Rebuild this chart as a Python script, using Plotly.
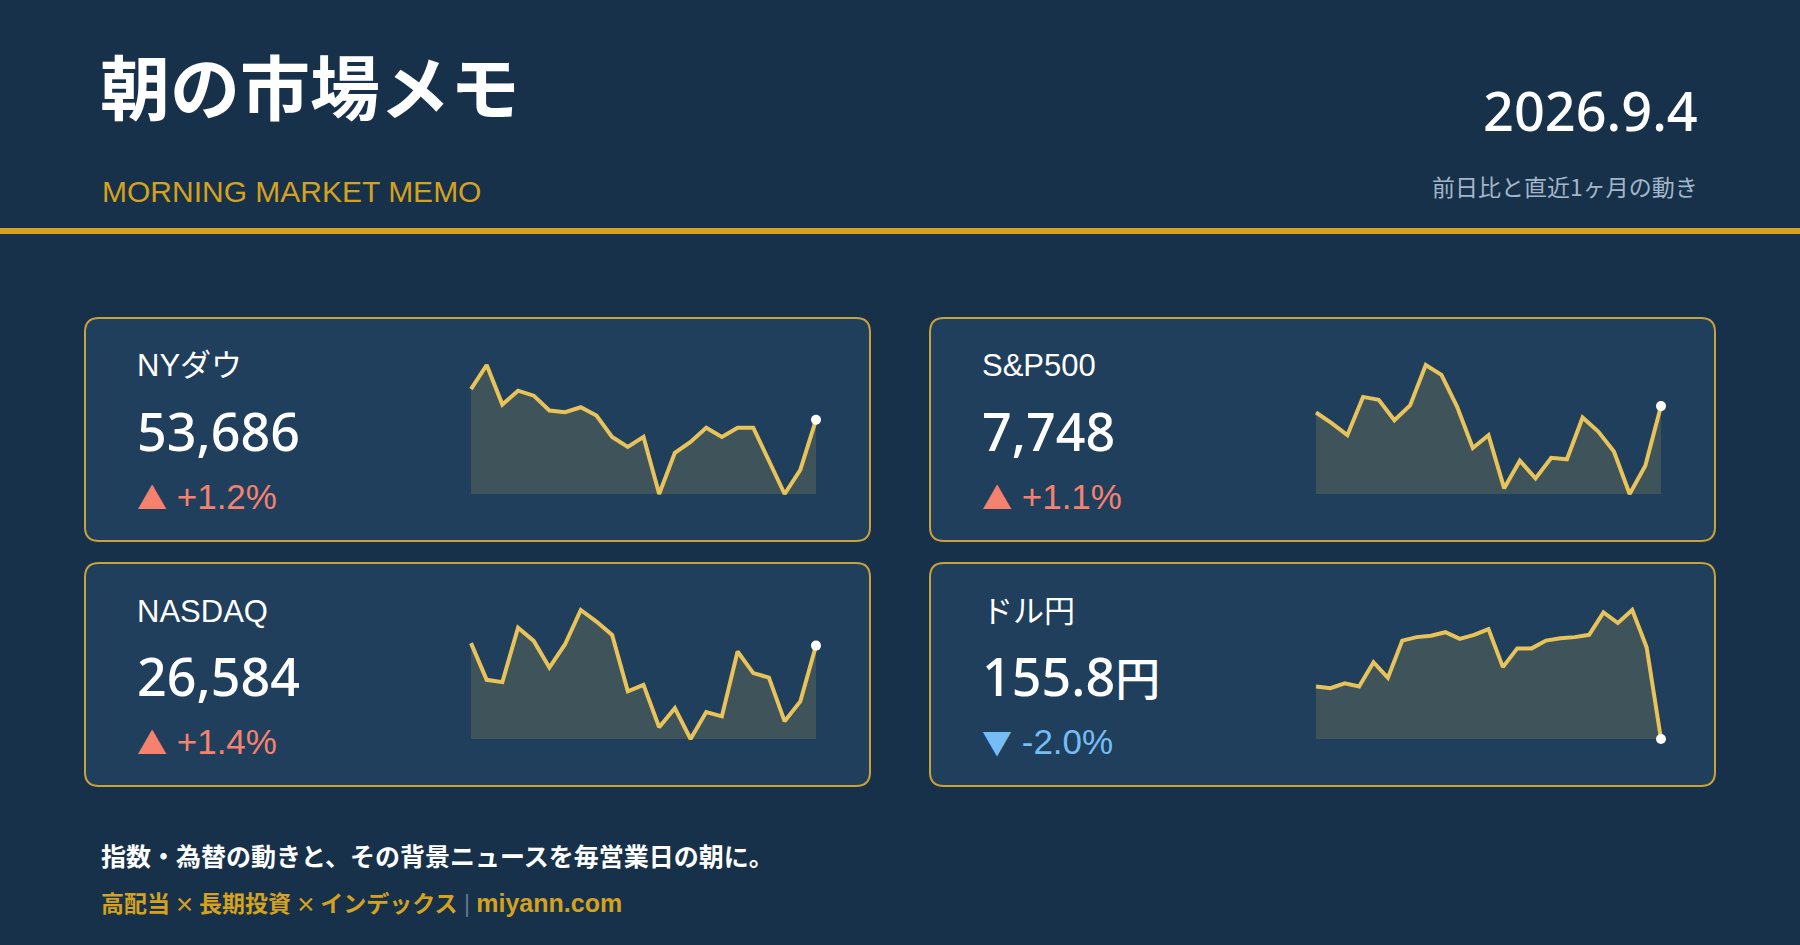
import plotly.graph_objects as go

# ---------------- data ----------------
names = ["NYダウ", "S&P500", "NASDAQ", "ドル円"]
value_numbers = ["53,686", "7,748", "26,584", "155.8"]
value_units = ["", "", "", "円"]
change_arrows = ["▲", "▲", "▲", "▼"]
change_labels = ["+1.2%", "+1.1%", "+1.4%", "-2.0%"]
change_up = [True, True, True, False]

dow = [54075, 54381, 53879, 54055, 53992, 53804, 53783, 53845, 53741, 53469,
       53343, 53469, 52745, 53268, 53406, 53586, 53469, 53586, 53586, 53176,
       52745, 53050, 53686]
sp500 = [7739, 7724, 7707, 7761, 7757, 7728, 7749, 7806, 7792, 7747,
         7689, 7707, 7632, 7671, 7646, 7675, 7673, 7732, 7712, 7684,
         7624, 7664, 7748]
nasdaq = [26600, 26359, 26344, 26702, 26615, 26440, 26593, 26818, 26742, 26654,
          26283, 26326, 26047, 26173, 25970, 26147, 26119, 26545, 26403, 26374,
          26086, 26217, 26584]
usdjpy = [157.62, 157.56, 157.73, 157.62, 158.46, 157.92, 159.21, 159.33, 159.38, 159.50,
          159.27, 159.41, 159.61, 158.29, 158.94, 158.94, 159.21, 159.29, 159.33, 159.41,
          160.19, 159.82, 160.27, 158.98, 155.80]
series = [dow, sp500, nasdaq, usdjpy]

title = "朝の市場メモ"
subtitle_en = "MORNING MARKET MEMO"
date_label = "2026.9.4"
date_note = "前日比と直近1ヶ月の動き"
footer1 = "指数・為替の動きと、その背景ニュースを毎営業日の朝に。"
footer_tags = ["高配当", "長期投資", "インデックス"]
footer_site = "miyann.com"

# ---------------- style ----------------
W, H = 1800, 945
BG = "#17314a"
CARD = "#1f3f5c"
GOLD = "#d4a21e"
CARD_BORDER = "#c9a23a"
LINE = "#e8c35a"
FILL = "rgba(232,195,90,0.16)"
UP = "#f5826f"
DOWN = "#74bdf5"
FONT = "'Liberation Sans', 'Noto Sans CJK JP', sans-serif"
NUMFONT = "'Noto Sans', 'Noto Sans CJK JP', sans-serif"
CJK = "'Noto Sans CJK JP'"

def fx(x):
    return x / W

def fy(y):
    return 1 - y / H

cards = [(85, 318), (930, 318), (85, 563), (930, 563)]
CW, CH = 785, 223

fig = go.Figure()
shapes = []
annotations = []

# gold rule
shapes.append(dict(type="rect", xref="paper", yref="paper", x0=0, x1=1,
                   y0=fy(234), y1=fy(228), fillcolor=GOLD, line=dict(width=0),
                   layer="below"))

def rounded(x0, y0, x1, y1, r):
    pts = (f"M {fx(x0+r)},{fy(y0)} L {fx(x1-r)},{fy(y0)} Q {fx(x1)},{fy(y0)} {fx(x1)},{fy(y0+r)} "
           f"L {fx(x1)},{fy(y1-r)} Q {fx(x1)},{fy(y1)} {fx(x1-r)},{fy(y1)} "
           f"L {fx(x0+r)},{fy(y1)} Q {fx(x0)},{fy(y1)} {fx(x0)},{fy(y1-r)} "
           f"L {fx(x0)},{fy(y0+r)} Q {fx(x0)},{fy(y0)} {fx(x0+r)},{fy(y0)} Z")
    return pts

def ann(text, x, y, size, color, anchor="left", weight="normal", family=FONT):
    annotations.append(dict(text=text, x=fx(x), y=fy(y), xref="paper", yref="paper",
                            xanchor=anchor, yanchor="middle", showarrow=False,
                            font=dict(family=family, size=size, color=color, weight=weight)))

# header
ann(title, 98, 91, 70, "white", weight="bold")
ann(subtitle_en, 100, 191, 30, GOLD)
ann(date_label, 1700, 110, 54, "white", anchor="right", weight=500, family=NUMFONT)
ann(date_note, 1700, 186, 23, "#a3b6c9", anchor="right", family=CJK)

# footer
ann(footer1, 99, 855, 25, "white", weight="bold", family=CJK)
times = f"<span style=\"font-family:{CJK};font-size:20px\"> × </span>"
bar = "<span style='color:rgba(255,255,255,0.35);font-weight:normal'> | </span>"
footer2 = (times.join(footer_tags) + bar +
           f"<span style='font-size:25px'>{footer_site}</span>")
ann(footer2, 99, 903, 23, GOLD, weight="bold")

for i, (cx, cy) in enumerate(cards):
    shapes.append(dict(type="path", xref="paper", yref="paper",
                       path=rounded(cx, cy, cx + CW, cy + CH, 14),
                       fillcolor=CARD, line=dict(color=CARD_BORDER, width=2), layer="below"))
    ann(names[i], cx + 50, cy + 48, 31, "white")
    unit = value_units[i]
    unit_html = f"<span style=\"font-family:{CJK};font-size:45px\">{unit}</span>" if unit else ""
    ann(value_numbers[i] + unit_html, cx + 50, cy + 112, 52, "white", weight=500, family=NUMFONT)
    ann(f"<span style=\"font-family:{CJK};font-size:30px\">{change_arrows[i]}</span> {change_labels[i]}",
        cx + 50, cy + 178, 35, UP if change_up[i] else DOWN)

    ys = series[i]
    n = len(ys)
    xs = list(range(n))
    lo, hi = min(ys), max(ys)
    xl, xr = cx + 386, cx + 731
    yt, yb = cy + 47, cy + 176
    pad = 10
    kx = (n - 1) / (xr - xl)
    ky = (hi - lo) / (yb - yt)
    ax = "" if i == 0 else str(i + 1)
    fig.update_layout(**{
        f"xaxis{ax}": dict(domain=[fx(xl - pad), fx(xr + pad)],
                           range=[-pad * kx, n - 1 + pad * kx], visible=False,
                           fixedrange=True, anchor=f"y{ax}"),
        f"yaxis{ax}": dict(domain=[fy(yb + pad), fy(yt - pad)],
                           range=[lo - pad * ky, hi + pad * ky], visible=False,
                           fixedrange=True, anchor=f"x{ax}"),
    })
    xa, ya = f"x{ax}", f"y{ax}"
    fig.add_trace(go.Scatter(x=xs, y=[lo] * n, mode="lines", line=dict(width=0),
                             xaxis=xa, yaxis=ya, hoverinfo="skip", showlegend=False))
    fig.add_trace(go.Scatter(x=xs, y=ys, mode="lines", fill="tonexty", fillcolor=FILL,
                             line=dict(color=LINE, width=4),
                             xaxis=xa, yaxis=ya, hoverinfo="skip", showlegend=False))
    fig.add_trace(go.Scatter(x=[xs[-1]], y=[ys[-1]], mode="markers",
                             marker=dict(color="white", size=10),
                             cliponaxis=False, xaxis=xa, yaxis=ya,
                             hoverinfo="skip", showlegend=False))

fig.update_layout(width=W, height=H, margin=dict(l=0, r=0, t=0, b=0),
                  paper_bgcolor=BG, plot_bgcolor="rgba(0,0,0,0)",
                  shapes=shapes, annotations=annotations, showlegend=False)

fig.write_html("out.html", config={"displayModeBar": False},
               post_script="document.body.style.margin='0';")
